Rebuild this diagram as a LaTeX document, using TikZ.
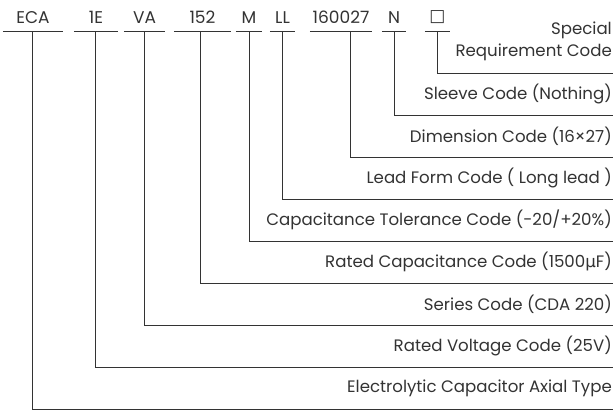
\documentclass[tikz,border=0pt]{standalone}
\usepackage{fontspec}
\setmainfont{Poppins}
\newfontfamily\symfont{DejaVu Sans}
\usetikzlibrary{positioning,calc}
\definecolor{ink}{RGB}{51,51,51}

\begin{document}
\begin{tikzpicture}[x=1pt,y=-1pt,
 code/.style={inner sep=0pt,minimum height=27pt,text=ink,font=\fontsize{17}{20}\selectfont},
 desc/.style={anchor=east,inner sep=0pt,align=right,text=ink,font=\fontsize{16.6}{22}\selectfont},
 lead/.style={draw=ink,line width=0.9pt}]
\useasboundingbox (0,0) rectangle (616,411);
% part number fields
\node[code,minimum width=60pt] (eca) at (33,17.5) {ECA};
\node[code,minimum width=44pt] (volt) at (96,17.5) {1E};
\node[code,minimum width=41pt] (ser) at (144.5,17.5) {VA};
\node[code,minimum width=57pt] (cap) at (202.5,17.5) {152};
\node[code,minimum width=26pt] (tol) at (249,17.5) {M};
\node[code,minimum width=25pt] (lead) at (282.5,17.5) {LL};
\node[code,minimum width=62pt] (dim) at (341,17.5) {160027};
\node[code,minimum width=24pt] (slv) at (394,17.5) {N};
\node[code,minimum width=25pt] (spc) at (437.5,17.5) {\symfont □};
\foreach \f in {eca,volt,ser,cap,tol,lead,dim,slv,spc}
  \draw[lead] (\f.south west)--(\f.south east);
% descriptions
\node[desc] (spcT) at (612,41) {Special\\Requirement Code};
\node[desc] (slvT) at (612,94) {Sleeve Code (Nothing)};
\node[desc] (dimT) at (612,136) {Dimension Code (16×27)};
\node[desc] (leadT) at (612,178) {Lead Form Code ( Long lead )};
\node[desc] (tolT) at (612,220) {Capacitance Tolerance Code (-20/+20\%)};
\node[desc] (capT) at (612,262) {Rated Capacitance Code (1500{\symfont μ}F)};
\node[desc] (serT) at (612,304) {Series Code (CDA 220)};
\node[desc] (voltT) at (612,346) {Rated Voltage Code (25V)};
\node[desc] (ecaT) at (612,388) {Electrolytic Capacitor Axial Type};
% line ends
\coordinate (spcE) at (613,73);
\coordinate (slvE) at (613,115);
\coordinate (dimE) at (613,157);
\coordinate (leadE) at (613,199);
\coordinate (tolE) at (613,241);
\coordinate (capE) at (613,283);
\coordinate (serE) at (613,325);
\coordinate (voltE) at (613,367);
\coordinate (ecaE) at (613,409);
\draw[lead] ([xshift=-1pt]eca.south) |- (ecaE);
\draw[lead] ([xshift=-1pt]volt.south) |- (voltE);
\draw[lead] (ser.south) |- (serE);
\draw[lead] ([xshift=-2pt]cap.south) |- (capE);
\draw[lead] (tol.south) |- (tolE);
\draw[lead] (lead.south) |- (leadE);
\draw[lead] ([xshift=9pt]dim.south) |- (dimE);
\draw[lead] (slv.south) |- (slvE);
\draw[lead] (spc.south) |- (spcE);
\end{tikzpicture}
\end{document}
